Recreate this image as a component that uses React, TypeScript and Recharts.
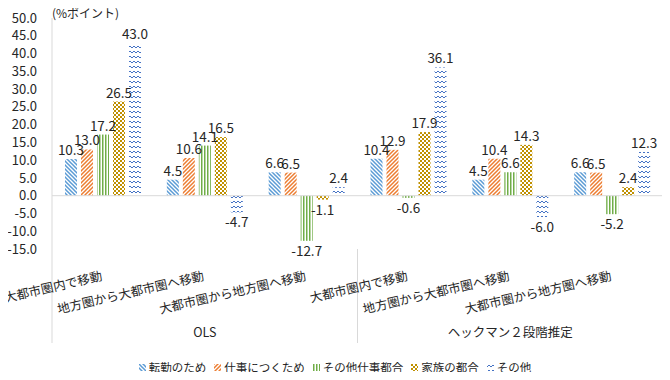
import { BarChart, Bar, XAxis, YAxis, ReferenceLine, LabelList, Legend } from 'recharts';

const categories = [
  '大都市圏内で移動',
  '地方圏から大都市圏へ移動',
  '大都市圏から地方圏へ移動',
  '大都市圏内で移動',
  '地方圏から大都市圏へ移動',
  '大都市圏から地方圏へ移動',
];
const groups = ['OLS', 'ヘックマン２段階推定'];

const seriesNames = ['転勤のため', '仕事につくため', 'その他仕事都合', '家族の都合', 'その他'];
const tenkin = [10.3, 4.5, 6.6, 10.4, 4.5, 6.6];
const shigoto = [13.0, 10.6, 6.5, 12.9, 10.4, 6.5];
const sonotaShigoto = [17.2, 14.1, -12.7, -0.6, 6.6, -5.2];
const kazoku = [26.5, 16.5, -1.1, 17.9, 14.3, 2.4];
const sonota = [43.0, -4.7, 2.4, 36.1, -6.0, 12.3];

const yTicks = [-15, -10, -5, 0, 5, 10, 15, 20, 25, 30, 35, 40, 45, 50];

const data = categories.map((c, i) => ({
  cat: c,
  s0: tenkin[i],
  s1: shigoto[i],
  s2: sonotaShigoto[i],
  s3: kazoku[i],
  s4: sonota[i],
}));

const FONT = '"Noto Sans CJK JP", "Noto Sans", sans-serif';
const PLOT_LEFT = 52;
const PLOT_RIGHT = 663;
const BAND = (PLOT_RIGHT - PLOT_LEFT) / categories.length;
const fills = ['url(#pBlue)', 'url(#pOrange)', 'url(#pGreen)', 'url(#pGold)', 'url(#pWave)'];

function Patterns() {
  return (
    <defs>
      <pattern id="pBlue" patternUnits="userSpaceOnUse" width="4" height="4">
        <rect width="4" height="4" fill="#fff" />
        <path d="M-1,-1 L5,5 M3,-1 L5,1 M-1,3 L1,5" stroke="#5B9BD5" strokeWidth="1.5" />
      </pattern>
      <pattern id="pOrange" patternUnits="userSpaceOnUse" width="4" height="4">
        <rect width="4" height="4" fill="#fff" />
        <path d="M-1,5 L5,-1 M-1,1 L1,-1 M3,5 L5,3" stroke="#ED7D31" strokeWidth="1.5" />
      </pattern>
      <pattern id="pGreen" patternUnits="userSpaceOnUse" width="3" height="3">
        <rect width="3" height="3" fill="#fff" />
        <rect x="0" width="1.5" height="3" fill="#70AD47" />
      </pattern>
      <pattern id="pGold" patternUnits="userSpaceOnUse" width="4" height="4">
        <rect width="4" height="4" fill="#fff" />
        <rect x="0" y="0" width="2" height="2" fill="#BF9000" />
        <rect x="2" y="2" width="2" height="2" fill="#BF9000" />
      </pattern>
      <pattern id="pWave" patternUnits="userSpaceOnUse" width="8" height="5">
        <rect width="8" height="5" fill="#fff" />
        <path d="M0,3 L2,1 L4,3 L6,1 L8,3" stroke="#4472C4" strokeWidth="1" fill="none" />
      </pattern>
    </defs>
  );
}

const ValueLabel = (props: any) => {
  const { x, y, width, height, value } = props;
  const top = Math.min(y, y + height);
  const bottom = Math.max(y, y + height);
  const cx = x + width / 2;
  const ty = value >= 0 ? top - 4 : bottom + 15;
  return (
    <text x={cx} y={ty} textAnchor="middle" fontSize={13.5} fontFamily={FONT} fill="#262626">
      {Number(value).toFixed(1)}
    </text>
  );
};

const CatTick = (props: any) => {
  const { x, y, payload, index } = props;
  const sepTop = y - 8;
  const sepBottom = 343;
  const extras: any[] = [];
  if (index === 0) {
    extras.push(<line key="l0" x1={x - BAND / 2} x2={x - BAND / 2} y1={sepTop} y2={sepBottom} stroke="#D9D9D9" />);
  }
  if (index === 2 || index === 5) {
    extras.push(<line key="l1" x1={x + BAND / 2} x2={x + BAND / 2} y1={sepTop} y2={sepBottom} stroke="#D9D9D9" />);
  }
  if (index === 1 || index === 4) {
    extras.push(
      <text key="g" x={x} y={337} textAnchor="middle" fontSize={12.5} fontFamily={FONT} fill="#262626">
        {groups[index === 1 ? 0 : 1]}
      </text>
    );
  }
  const ly = y + 23;
  return (
    <g>
      {extras}
      <text
        x={x}
        y={ly}
        textAnchor="end"
        fontSize={12.5}
        fontFamily={FONT}
        fill="#262626"
        transform={`rotate(-13, ${x}, ${ly})`}
      >
        {payload.value}
      </text>
    </g>
  );
};

const LegendContent = () => (
  <div
    style={{
      display: 'flex',
      justifyContent: 'center',
      fontFamily: FONT,
      fontSize: 11.5,
      color: '#262626',
      paddingTop: 6,
    }}
  >
    {seriesNames.map((n, i) => (
      <div key={n} style={{ display: 'flex', alignItems: 'center', marginRight: i < seriesNames.length - 1 ? 8 : 0 }}>
        <svg width={7} height={7} style={{ marginRight: 3 }}>
          <rect width={7} height={7} fill={fills[i]} />
        </svg>
        <span>{n}</span>
      </div>
    ))}
  </div>
);

export default function App() {
  return (
    <div style={{ position: 'relative', margin: -8, width: 670, height: 380, background: '#fff' }}>
      <div
        style={{
          position: 'absolute',
          left: 52,
          top: 4,
          fontFamily: FONT,
          fontSize: 12,
          color: '#262626',
        }}
      >
        (%ポイント)
      </div>
      <BarChart
        width={670}
        height={380}
        data={data}
        margin={{ top: 18, right: 7, left: 0, bottom: 10 }}
        barSize={12}
        barGap={4}
      >
        <Patterns />
        <YAxis
          width={52}
          domain={[-15, 50]}
          ticks={yTicks}
          interval={0}
          tickFormatter={(v: number) => v.toFixed(1)}
          axisLine={{ stroke: '#D9D9D9' }}
          tickLine={false}
          tick={{ fontSize: 13, fontFamily: FONT, fill: '#262626', dx: -7 }}
        />
        <XAxis
          dataKey="cat"
          height={99}
          interval={0}
          axisLine={false}
          tickLine={false}
          tick={<CatTick />}
        />
        <ReferenceLine y={0} stroke="#D9D9D9" />
        {['s0', 's1', 's2', 's3', 's4'].map((k, i) => (
          <Bar key={k} dataKey={k} name={seriesNames[i]} fill={fills[i]} isAnimationActive={false}>
            <LabelList dataKey={k} content={<ValueLabel />} />
          </Bar>
        ))}
        <Legend
          verticalAlign="bottom"
          content={<LegendContent />}
          wrapperStyle={{ top: 353, left: 0, width: 670 }}
        />
      </BarChart>
    </div>
  );
}
